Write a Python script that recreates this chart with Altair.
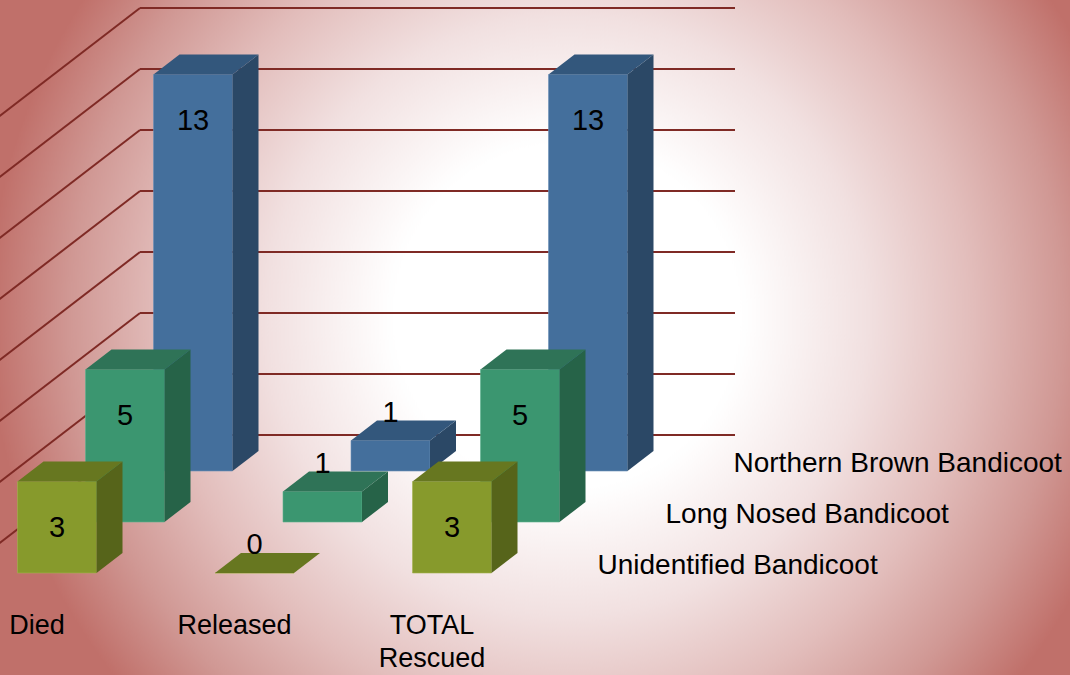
import altair as alt
import pandas as pd

# ---------------- data ----------------
categories = ["Died", "Released", "TOTAL\nRescued"]
series = ["Unidentified Bandicoot", "Long Nosed Bandicoot", "Northern Brown Bandicoot"]
unidentified = [3, 0, 3]
long_nosed = [5, 1, 5]
northern_brown = [13, 1, 13]
grid_values = [0, 2, 4, 6, 8, 10, 12, 14]

face_colors = ["#879a2c", "#3b9670", "#446f9c"]
side_colors = ["#56641a", "#266348", "#2b4866"]
top_colors = ["#677720", "#2f7357", "#33577c"]
edge_colors = ["#a3b34e", "#5db08e", "#6a90b8"]

# ---------------- pseudo-3D projection (layout) ----------------
W, H = 1070, 675
X0, BASE0 = 17.5, 573
ROW_DX, ROW_DY = 68, 51
CAT_STEP = 197.5
BAR_W = 79
DEPTH_DX, DEPTH_DY = 26, 20
UNIT = 30.5
WALL_X0, WALL_X1, WALL_BASE = 140, 735, 435
SLOPE = 0.77
FONT = "Liberation Sans"

values = [unidentified, long_nosed, northern_brown]
fronts, sides, tops, labels = [], [], [], []
for r, vals in enumerate(values):
    for c, v in enumerate(vals):
        xl = X0 + r * ROW_DX + c * CAT_STEP
        xr = xl + BAR_W
        yb = BASE0 - r * ROW_DY
        yt = yb - v * UNIT
        bid = f"{r}-{c}"
        fronts.append(dict(row=r, bar=bid, xl=xl, xr=xr, yt=yt, yb=yb, fill=face_colors[r]))
        sides.append(dict(row=r, bar=bid, x=xr, y=yt, y2=yb, fill=side_colors[r]))
        sides.append(dict(row=r, bar=bid, x=xr + DEPTH_DX, y=yt - DEPTH_DY, y2=yb - DEPTH_DY, fill=side_colors[r]))
        tops.append(dict(row=r, bar=bid, y=yt, x=xl, x2=xr, fill=top_colors[r]))
        tops.append(dict(row=r, bar=bid, y=yt - DEPTH_DY, x=xl + DEPTH_DX, x2=xr + DEPTH_DX, fill=top_colors[r]))
        labels.append(dict(x=(xl + xr) / 2, y=(yt + 46) if v >= 2 else (yt - 28), text=str(v)))

fronts_df = pd.DataFrame(fronts)
sides_df = pd.DataFrame(sides)
tops_df = pd.DataFrame(tops)
labels_df = pd.DataFrame(labels)

grid_df = pd.DataFrame({
    "x": [WALL_X0] * len(grid_values),
    "x2": [WALL_X1] * len(grid_values),
    "y": [WALL_BASE - g * UNIT for g in grid_values],
})
diag_df = pd.DataFrame({
    "x": [WALL_X0] * len(grid_values),
    "y": [WALL_BASE - g * UNIT for g in grid_values],
    "x2": [WALL_X0 - 200] * len(grid_values),
    "y2": [WALL_BASE - g * UNIT + 200 * SLOPE for g in grid_values],
})

cat_df = pd.DataFrame({
    "x": [X0 + c * CAT_STEP + BAR_W / 2 - 20 for c in range(len(categories))],
    "y": [634] * len(categories),
    "text": categories,
})
ser_df = pd.DataFrame({
    "x": [X0 + r * ROW_DX + 580 for r in range(len(series))],
    "y": [BASE0 - r * ROW_DY + 1 for r in range(len(series))],
    "text": series,
})

xs = alt.Scale(domain=[0, W], range=[0, W], nice=False, zero=False)
ys = alt.Scale(domain=[0, H], range=[0, H], nice=False, zero=False)

# ---------------- background ----------------
bg = alt.Chart(pd.DataFrame({"a": [0]})).mark_rect(
    clip=True,
    fill=alt.RadialGradient(
        gradient="radial",
        stops=[
            alt.GradientStop(color="#ffffff", offset=0),
            alt.GradientStop(color="#ffffff", offset=0.30),
            alt.GradientStop(color="#f1e0e0", offset=0.52),
            alt.GradientStop(color="#e2bdbb", offset=0.70),
            alt.GradientStop(color="#d09894", offset=0.86),
            alt.GradientStop(color="#c0706a", offset=1),
        ],
        x1=0.53, y1=0.48, r1=0,
        x2=0.53, y2=0.48, r2=0.54,
    ),
).encode(x=alt.value(0), x2=alt.value(W), y=alt.value(-197.5), y2=alt.value(872.5))

grid = alt.Chart(grid_df).mark_rule(color="#7f2a25", strokeWidth=2, clip=True).encode(
    x=alt.X("x:Q", scale=xs, axis=None), x2="x2:Q",
    y=alt.Y("y:Q", scale=ys, axis=None),
)
diag = alt.Chart(diag_df).mark_rule(color="#7f2a25", strokeWidth=2, clip=True).encode(
    x=alt.X("x:Q", scale=xs, axis=None), x2="x2:Q",
    y=alt.Y("y:Q", scale=ys, axis=None), y2="y2:Q",
)

layers = [bg, grid, diag]
for r in [2, 1, 0]:
    f = alt.Chart(fronts_df[fronts_df.row == r]).mark_rect(
        stroke=edge_colors[r], strokeWidth=1, strokeOpacity=0.6
    ).encode(
        x=alt.X("xl:Q", scale=xs, axis=None), x2="xr:Q",
        y=alt.Y("yt:Q", scale=ys, axis=None), y2="yb:Q",
        fill=alt.Fill("fill:N", scale=None),
    )
    s = alt.Chart(sides_df[sides_df.row == r]).mark_area(orient="vertical", interpolate="linear").encode(
        x=alt.X("x:Q", scale=xs, axis=None),
        y=alt.Y("y:Q", scale=ys, axis=None, stack=None), y2="y2:Q",
        detail="bar:N",
        fill=alt.Fill("fill:N", scale=None),
    )
    t = alt.Chart(tops_df[tops_df.row == r]).mark_area(orient="horizontal", interpolate="linear").encode(
        y=alt.Y("y:Q", scale=ys, axis=None),
        x=alt.X("x:Q", scale=xs, axis=None, stack=None), x2="x2:Q",
        detail="bar:N",
        fill=alt.Fill("fill:N", scale=None),
    )
    layers += [f, s, t]

num = alt.Chart(labels_df).mark_text(
    font=FONT, fontSize=29, baseline="middle", align="center", color="#000000"
).encode(
    x=alt.X("x:Q", scale=xs, axis=None), y=alt.Y("y:Q", scale=ys, axis=None), text="text:N"
)
cat = alt.Chart(cat_df).mark_text(
    font=FONT, fontSize=27, baseline="alphabetic", align="center", color="#000000",
    lineBreak="\n", lineHeight=33,
).encode(
    x=alt.X("x:Q", scale=xs, axis=None), y=alt.Y("y:Q", scale=ys, axis=None), text="text:N"
)
ser = alt.Chart(ser_df).mark_text(
    font=FONT, fontSize=28, baseline="alphabetic", align="left", color="#000000"
).encode(
    x=alt.X("x:Q", scale=xs, axis=None), y=alt.Y("y:Q", scale=ys, axis=None), text="text:N"
)
layers += [num, cat, ser]

chart = alt.layer(*layers).properties(
    width=W, height=H, padding=0, autosize="none", background="#ffffff"
).configure_view(strokeWidth=0)

chart.save("out.html", embed_options={"renderer": "svg", "actions": False})
